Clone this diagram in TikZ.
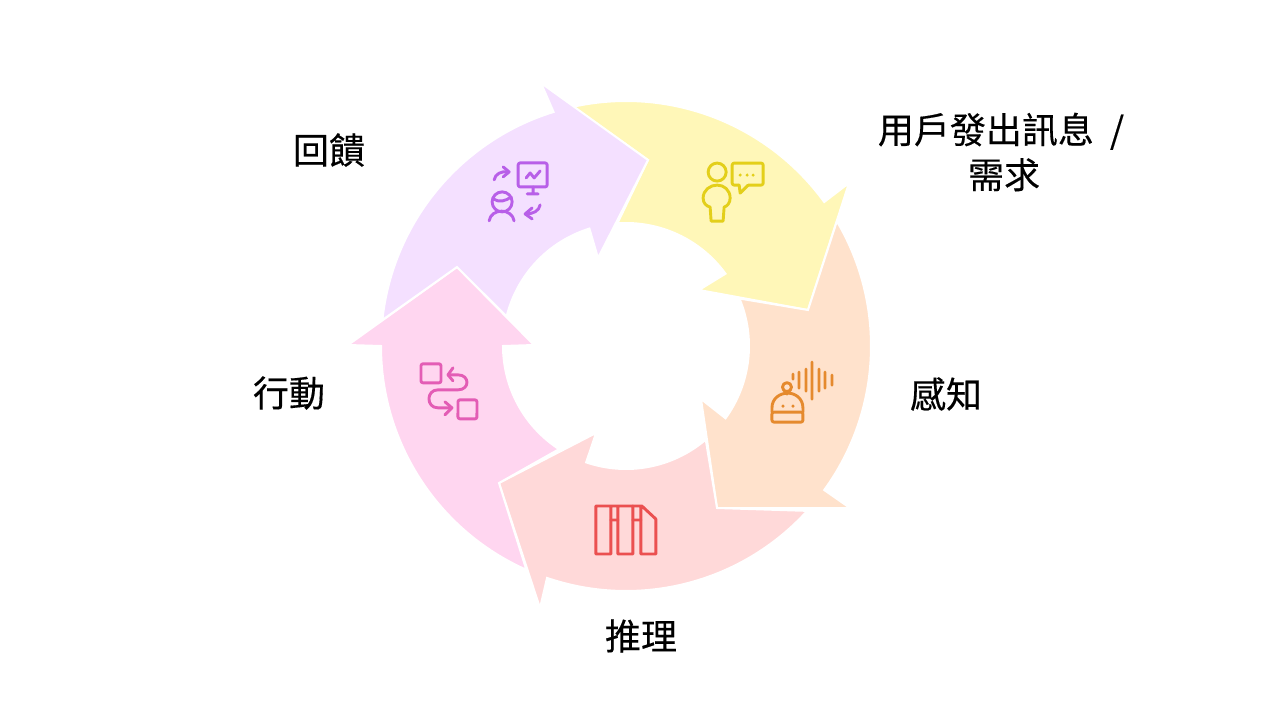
\documentclass[tikz,border=0pt]{standalone}
\usepackage{fontspec}
\setmainfont[FakeBold=0.35]{Noto Sans CJK TC}
\tikzset{
    segment/.style={draw=white,line width=2pt,line join=miter},
    icon/.style={rotate around={0.05:(626,346)},line width=2.9pt,line cap=round,line join=round},
    label/.style={font=\fontsize{36}{45}\selectfont,align=center,inner sep=0pt}
}
\definecolor{yellowfill}{HTML}{FFF7B8}
\definecolor{orangefill}{HTML}{FFE2CC}
\definecolor{redfill}{HTML}{FFD9D9}
\definecolor{pinkfill}{HTML}{FFD6F0}
\definecolor{purplefill}{HTML}{F4E0FF}
\definecolor{yellowicon}{HTML}{E3CF1A}
\definecolor{orangeicon}{HTML}{E58A2E}
\definecolor{redicon}{HTML}{EB5050}
\definecolor{pinkicon}{HTML}{E35DB5}
\definecolor{purpleicon}{HTML}{B85FE8}
\begin{document}
\begin{tikzpicture}[x=1pt,y=1pt,yscale=-1]
    \useasboundingbox (0,0) rectangle (1282,722);

    % ring, offsets from its centre
    \begin{scope}[shift={(626,346)}]
        \path [segment,fill=yellowfill] (-102.5:245) arc[start angle=-102.5,end angle=-36,radius=245]
            -- (223,-163) -- (182,-36) -- (73,-56) -- (-36:123)
            arc[start angle=-36,end angle=-94,radius=123] -- (22,-186) -- cycle;
        \path [segment,fill=orangefill] (-30.6:245) arc[start angle=-30.6,end angle=36,radius=245]
            -- (224,162) -- (91,162) -- (75,53) -- (36:123)
            arc[start angle=36,end angle=-22.7,radius=123] -- (182,-36) -- cycle;
        \path [segment,fill=redfill] (42.3:245) arc[start angle=42.3,end angle=108.8,radius=245]
            -- (-86,262) -- (-127,137) -- (-30,87) -- (108.9:123)
            arc[start angle=108.9,end angle=49.6,radius=123] -- (91,162) -- cycle;
        \path [segment,fill=pinkfill] (114:245) arc[start angle=114,end angle=180,radius=245]
            -- (-278,-1) -- (-169,-79) -- (-92,-1) -- (180:123)
            arc[start angle=180,end angle=123,radius=123] -- (-127,137) -- cycle;
        \path [segment,fill=purplefill] (186.1:245) arc[start angle=186.1,end angle=252.8,radius=245]
            -- (-85,-263) -- (22,-186) -- (-28,-88) -- (252.7:123)
            arc[start angle=252.7,end angle=193.9,radius=123] -- (-169,-79) -- cycle;
    \end{scope}

    % feedback icon
    \begin{scope}[icon,draw=purpleicon]
        \draw [rounded corners=2pt] (518,163) rectangle (547,187);
        \draw (533,187) -- (533,193) (527,194) -- (538,194);
        \draw (526,178) -- (530,173) -- (534,178) -- (540,171);
        \draw (494,180) .. controls (495,174) and (501,171) .. (508,172);
        \draw (503,167) -- (509,172) -- (503,177);
        \draw (502,202) circle (10);
        \draw (493,199) .. controls (499,203) and (506,201) .. (511,197);
        \draw (489,221) .. controls (491,208) and (512,208) .. (514,221);
        \draw (540,205) .. controls (539,211) and (533,214) .. (526,214);
        \draw (532,208) -- (525,214) -- (532,219);
    \end{scope}

    % user icon
    \begin{scope}[icon,draw=yellowicon]
        \draw (717,172) circle (9);
        \draw (711,221) -- (723,221) -- (724,207) .. controls (727,206) and (730,203) .. (730,198)
            .. controls (730,190) and (724,185) .. (717,185) .. controls (710,185) and (703,190) .. (703,198)
            .. controls (703,203) and (706,206) .. (710,207) -- cycle;
        \draw [rounded corners=2pt] (739,185) -- (732,185) -- (732,163) -- (763,163) -- (763,185) -- (748,185);
        \draw (739,185) -- (740,193) -- (748,185);
        \foreach \dotx in {740,747,753}
            \fill [yellowicon] (\dotx,175) circle (1.7);
    \end{scope}

    % sensing icon
    \begin{scope}[icon,draw=orangeicon]
        \draw (793,374) -- (793,379) (799,372) -- (799,388) (806,369) -- (806,391);
        \draw (812,362) -- (812,399) (819,369) -- (819,391) (825,372) -- (825,388) (832,375) -- (832,385);
        \draw (787,387) circle (4.5);
        \draw (787,392) -- (787,394);
        \draw (772,412) -- (772,408) .. controls (772,398) and (780,393) .. (788,393)
            .. controls (795,393) and (803,398) .. (803,408) -- (803,412);
        \draw [rounded corners=2pt] (772,412) rectangle (803,422);
        \fill [orangeicon] (783,406) circle (1.7) (793,406) circle (1.7);
    \end{scope}

    % reasoning icon
    \begin{scope}[icon,draw=redicon]
        \draw (611,506) -- (596,506) -- (596,554) -- (611,554) -- (611,506) -- (618,506) -- (618,554) -- (633,554) -- (633,506) -- (618,506);
        \draw (633,506) -- (642,506) -- (656,519) -- (656,554) -- (641,554) -- (641,506);
        \draw (611,520) -- (618,520) (633,520) -- (641,520);
    \end{scope}

    % action icon
    \begin{scope}[icon,draw=pinkicon]
        \draw [rounded corners=2pt] (421,364) rectangle (441,383);
        \draw [rounded corners=2pt] (458,400) rectangle (477,419);
        \draw (453,368) -- (448,375) -- (453,381);
        \draw (448,375) -- (458,375) .. controls (470,375) and (470,390) .. (458,390) -- (438,390)
            .. controls (426,390) and (426,408) .. (438,408) -- (451,408);
        \draw (445,402) -- (452,408) -- (445,415);
    \end{scope}

    \begin{scope}[every node/.style={label}]
        \node (need) at (1001,152) {用戶發出訊息\hspace{8pt} /\\\hspace*{6pt}需求};
        \node (sense) at (946,394) {感知};
        \node (reason) at (641,636) {推理};
        \node (act) at (289,393) {行動};
        \node (feedback) at (329,150) {回饋};
    \end{scope}
\end{tikzpicture}
\end{document}
